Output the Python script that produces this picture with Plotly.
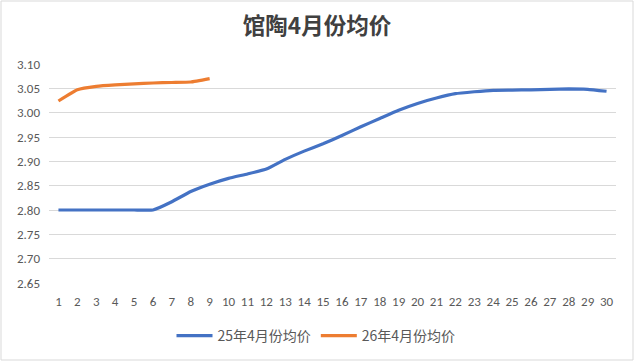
import plotly.graph_objects as go

days = [str(i) for i in range(1, 31)]
series_25_name = "25年4月份均价"
series_26_name = "26年4月份均价"
values_25 = [2.800, 2.800, 2.800, 2.800, 2.800, 2.800, 2.817, 2.838, 2.853, 2.865,
             2.874, 2.884, 2.904, 2.921, 2.936, 2.953, 2.971, 2.988, 3.005, 3.019,
             3.030, 3.039, 3.043, 3.046, 3.0465, 3.047, 3.048, 3.049, 3.048, 3.044]
values_26 = [3.024, 3.047, 3.054, 3.057, 3.059, 3.061, 3.062, 3.063, 3.070]
title_text = "馆陶4月份均价"
y_ticks = [2.65, 2.70, 2.75, 2.80, 2.85, 2.90, 2.95, 3.00, 3.05, 3.10]

W, H = 635, 362
L, R, T, B = 49, 19, 64, 79

latin = "Calibri, Carlito, 'Liberation Sans', 'Noto Sans CJK SC', sans-serif"
cjk = "'Noto Sans CJK SC', 'Liberation Sans', sans-serif"

fig = go.Figure()
fig.add_trace(go.Scatter(x=days, y=values_25, name=series_25_name, mode="lines",
                         line=dict(color="#4472C4", width=3.2, shape="spline", smoothing=0.35)))
fig.add_trace(go.Scatter(x=days[:len(values_26)], y=values_26, name=series_26_name, mode="lines",
                         line=dict(color="#ED7D31", width=3.2, shape="spline", smoothing=0.35)))

pw = W - L - R
ph = H - T - B
fig.add_shape(type="rect", xref="paper", yref="paper",
              x0=-(L - 1) / pw, x1=1 + (R - 2) / pw,
              y0=-(B - 2) / ph, y1=1 + (T - 1) / ph,
              line=dict(color="#D9D9D9", width=1), layer="below")

fig.update_layout(
    width=W, height=H,
    margin=dict(l=L, r=R, t=T, b=B, pad=0),
    paper_bgcolor="white", plot_bgcolor="white",
    title=dict(text="<b>" + title_text + "</b>", x=(317 - L) / pw, xref="paper", xanchor="center",
               y=1 - 26 / H, yref="container", yanchor="middle",
               font=dict(family=cjk, size=22.5, color="#404040")),
    showlegend=True,
    legend=dict(orientation="h", x=(316 - L) / pw, xanchor="center",
                y=1 - 336 / H, yref="container", yanchor="middle",
                font=dict(family=cjk, size=14, color="#595959"),
                itemwidth=36, tracegroupgap=0),
    xaxis=dict(type="category", range=[-0.5, 29.5], showgrid=False, zeroline=False,
               showline=False, ticks="", tickfont=dict(family=latin, size=13, color="#595959"),
               ticklabelstandoff=9, fixedrange=True),
    yaxis=dict(range=[2.65, 3.10], tickvals=y_ticks, tickformat=".2f",
               showgrid=True, gridcolor="#D9D9D9", gridwidth=1, zeroline=False,
               showline=False, ticks="", tickfont=dict(family=latin, size=13, color="#595959"),
               ticklabelstandoff=8),
)

fig.write_html("out.html", config={"displayModeBar": False},
               post_script="document.body.style.margin='0';")
